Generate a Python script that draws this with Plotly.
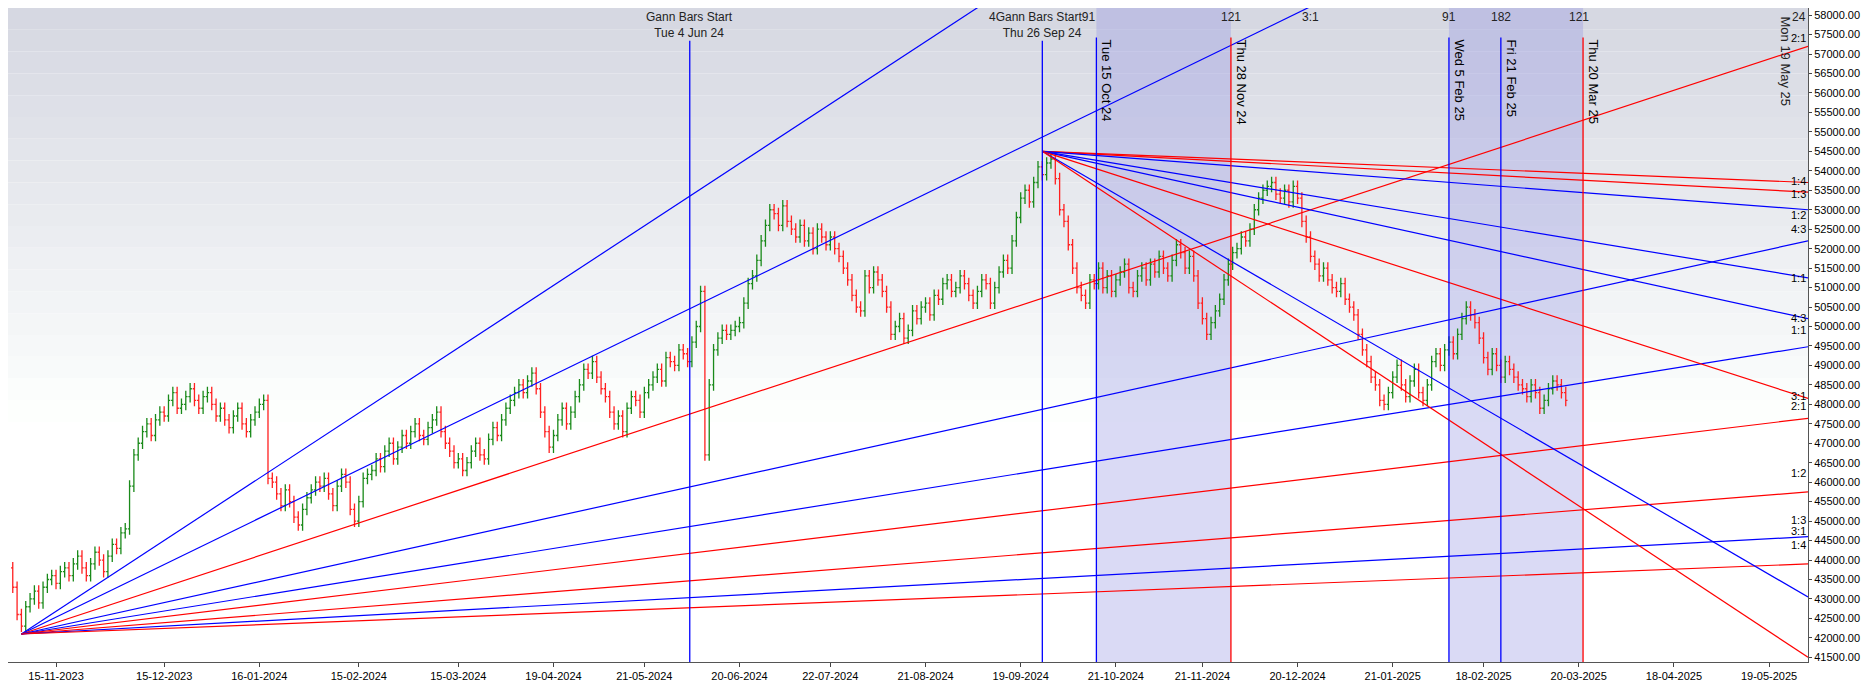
import plotly.graph_objects as go

# daily closes, one per trading bar (bar index = position in list)
closes = [
    43300, 42600, 42300, 42800, 43000, 43200, 42900, 43300, 43500, 43600,
    43400, 43700, 43800, 43600, 43900, 44100, 43800, 43600, 43900, 44200,
    44000, 43700, 44100, 44400, 44300, 44700, 44800, 45900, 46700, 47000,
    47300, 47500, 47200, 47600, 47800, 47700, 48100, 48300, 47900, 48000,
    48200, 48400, 48100, 47900, 48200, 48300, 48000, 47700, 47900, 47600,
    47400, 47700, 47900, 47500, 47300, 47600, 47800, 48000, 48100, 46100,
    46000, 45700, 45400, 45800, 45500, 45100, 44900, 45300, 45600, 45800,
    46000, 45900, 46100, 45700, 45400, 45900, 46200, 46000, 45300, 45000,
    45500, 46100, 46200, 46300, 46600, 46400, 46800, 47000, 46600, 46900,
    47200, 47000, 47300, 47500, 47200, 47100, 47400, 47600, 47800, 47300,
    47000, 46800, 46500, 46600, 46300, 46500, 46800, 47000, 46700, 46600,
    47100, 47400, 47200, 47600, 47900, 48100, 48300, 48500, 48300, 48600,
    48800, 48400, 47800, 47300, 46900, 47200, 47600, 47900, 47500, 47800,
    48200, 48500, 48900, 48800, 49100, 48700, 48400, 48200, 47800, 47500,
    47700, 47300, 47900, 48200, 48100, 47800, 48300, 48500, 48700, 48900,
    48600, 49200, 49100, 49000, 49400, 49300, 49100, 49600, 50000, 50900,
    46700, 48500, 49400, 49700, 49900, 49800, 49900, 50000, 50100, 50600,
    51100, 51300, 51700, 52200, 52600, 53000, 52900, 52600, 53100, 52700,
    52500, 52300, 52600, 52200, 52400, 52000, 52500, 52300, 52100, 52300,
    52000, 51800, 51500, 51200, 50800, 50500, 50400, 51300, 51000, 51400,
    51200, 50900, 50500, 49800, 50000, 50200, 49700, 49900, 50400, 50200,
    50500, 50600, 50300, 50800, 50700, 51100, 51200, 50900, 51000, 51300,
    51100, 50800, 50600, 50900, 51200, 51100, 50600, 51000, 51400, 51700,
    51500, 52200, 52800, 53300, 53500, 53200, 53700, 54100, 53900, 54200,
    54300, 53800, 53000, 52700, 52100, 51500, 51000, 50800, 50600, 51200,
    51100, 51500, 51000, 51300, 50900, 51200, 51400, 51600, 51000, 50900,
    51300, 51500, 51200, 51600, 51400, 51800, 51500, 51300, 51700, 52100,
    51900, 51500, 51800, 51300, 50600, 50200, 49800, 50100, 50400, 50700,
    51200, 51600, 51900, 52000, 52300, 52200, 52500, 53000, 53300, 53500,
    53600, 53700, 53400, 53300, 53500, 53200, 53600, 53300, 52700, 52300,
    51800, 51600, 51300, 51500, 51200, 51000, 50900, 51100, 50700, 50500,
    50300, 49800, 49400, 49100, 48700, 48500, 48100, 48000, 48300, 48700,
    49000, 48500, 48200, 48600, 48900, 48300, 48100, 48500, 49100, 49300,
    49000, 49400, 49600, 49300, 49800, 50200, 50500, 50300, 50100, 49700,
    49200, 48900, 49300, 49000, 48700, 49100, 48900, 48700, 48500, 48400,
    48200, 48500, 48300, 47900, 48100, 48400, 48600, 48500, 48300, 48100,
]
first_open = 43800
wick = 150

# x axis (bar index) tick positions and labels
tick_idx = [10, 35, 57, 80, 103, 125, 146, 168, 189, 211, 233, 255, 275, 297, 319, 340, 362, 384, 406]
tick_txt = ['15-11-2023', '15-12-2023', '16-01-2024', '15-02-2024', '15-03-2024', '19-04-2024',
            '21-05-2024', '20-06-2024', '22-07-2024', '21-08-2024', '19-09-2024', '21-10-2024', '21-11-2024',
            '20-12-2024', '21-01-2025', '18-02-2025', '20-03-2025', '18-04-2025', '19-05-2025']

x_end = 415
# gann fan from the low (bar 2) and from the top (bar 238)
low_origin = (2, 42100)
low_ends = [72170, 64440, 57200, 52200, 49480, 47640, 45750, 44600, 43900]
low_cols = ['blue', 'blue', 'red', 'blue', 'blue', 'red', 'red', 'blue', 'red']
top_origin = (238, 54500)
top_ends = [53700, 53450, 53000, 51250, 50200, 48150, 43050, 41500]
top_cols = ['red', 'red', 'blue', 'blue', 'blue', 'red', 'blue', 'red']

# vertical date lines
vl_idx = [156.5, 238, 250.5, 281.6, 332, 344, 363]
vl_cols = ['blue', 'blue', 'blue', 'red', 'blue', 'blue', 'red']
vl_rot = [None, None, 'Tue 15 Oct 24', 'Thu 28 Nov 24', 'Wed 5 Feb 25', 'Fri 21 Feb 25', 'Thu 20 Mar 25']
shade = [(250.5, 281.6), (332, 363)]

# ratio labels on the right edge
rlab_y = [57200, 53540, 53200, 52650, 52290, 51030, 50020, 49700, 48000, 47750, 46020, 44830, 44530, 44190]
rlab_t = ['2:1', '1:4', '1:3', '1:2', '4:3', '1:1', '4:3', '1:1', '3:1', '2:1', '1:2', '1:3', '3:1', '1:4']
# counts along the top
top_x = [281.6, 300, 332, 344, 362]
top_t = ['121', '3:1', '91', '182', '121']

opens, highs, lows = [], [], []
prev = first_open
for c in closes:
    opens.append(prev)
    highs.append(max(prev, c) + wick)
    lows.append(min(prev, c) - wick)
    prev = c

fig = go.Figure()

# background gradient
n = 30
for k in range(n):
    t = k / n
    g = int(214 + (255 - 214) * min(1, t * 1.6))
    b = int(226 + (255 - 226) * min(1, t * 1.6))
    fig.add_shape(type='rect', xref='paper', yref='paper', x0=0, x1=1, y0=1 - (k + 1) / n, y1=1 - k / n,
                  fillcolor=f'rgb({g},{g + 2},{b})', line_width=0, layer='below')
for a, b in shade:
    fig.add_shape(type='rect', xref='x', yref='paper', x0=a, x1=b, y0=0, y1=1,
                  fillcolor='rgba(150,150,225,0.35)', line_width=0, layer='below')

for e, c in zip(low_ends, low_cols):
    fig.add_trace(go.Scatter(x=[low_origin[0], x_end], y=[low_origin[1], e], mode='lines',
                             line=dict(color=c, width=1.2), hoverinfo='skip'))
for e, c in zip(top_ends, top_cols):
    fig.add_trace(go.Scatter(x=[top_origin[0], x_end], y=[top_origin[1], e], mode='lines',
                             line=dict(color=c, width=1.2), hoverinfo='skip'))

fig.add_trace(go.Ohlc(x=list(range(len(closes))), open=opens, high=highs, low=lows, close=closes,
                      increasing_line_color='#1a8a1a', decreasing_line_color='#ff2020',
                      line_width=1.3, tickwidth=0.4))

for xi, c, r in zip(vl_idx, vl_cols, vl_rot):
    top = 0.955 if r else 0.95
    fig.add_shape(type='line', xref='x', yref='paper', x0=xi, x1=xi, y0=0, y1=top, line=dict(color=c, width=1.3))
    if r:
        fig.add_annotation(x=xi, y=0.955, xref='x', yref='paper', text=r, textangle=90, showarrow=False,
                           xanchor='left', yanchor='top', xshift=1, font=dict(size=13, color='black'))

fig.add_annotation(x=156.5, y=1, xref='x', yref='paper', text='Gann Bars Start<br>Tue 4 Jun 24', showarrow=False,
                   yanchor='top', font=dict(size=12, color='#222'))
fig.add_annotation(x=238, y=1, xref='x', yref='paper', text='4Gann Bars Start91<br>Thu 26 Sep 24', showarrow=False,
                   yanchor='top', font=dict(size=12, color='#222'))
for xi, t in zip(top_x, top_t):
    fig.add_annotation(x=xi, y=1, xref='x', yref='paper', text=t, showarrow=False, yanchor='top',
                       font=dict(size=12, color='#222'))
fig.add_annotation(x=1, y=1, xref='paper', yref='paper', text='24', showarrow=False, xanchor='right',
                   yanchor='top', font=dict(size=12, color='#222'))
fig.add_annotation(x=407.5, y=0.99, xref='x', yref='paper', text='Mon 19 May 25', textangle=90, showarrow=False,
                   xanchor='left', yanchor='top', font=dict(size=13, color='#222'))
for yv, t in zip(rlab_y, rlab_t):
    fig.add_annotation(x=x_end, y=yv, xref='x', yref='y', text=t, showarrow=False, xanchor='right',
                       yanchor='bottom', font=dict(size=11, color='black'))

fig.update_layout(
    width=1870, height=682, margin=dict(l=0, r=70, t=0, b=28),
    showlegend=False, paper_bgcolor='white', plot_bgcolor='white',
    font=dict(family='Liberation Sans, Arial', size=11, color='black'),
    xaxis=dict(range=[-1.1, x_end], tickmode='array', tickvals=tick_idx, ticktext=tick_txt,
               showgrid=False, zeroline=False, rangeslider_visible=False, ticks='outside', ticklen=4,
               showline=True, linecolor='#555'),
    yaxis=dict(side='right', range=[41380, 58183], dtick=500, tick0=41500, tickformat='.2f',
               showgrid=False, zeroline=False, ticks='outside', ticklen=3, showline=True, linecolor='#555'),
)
fig.write_html('out.html')
